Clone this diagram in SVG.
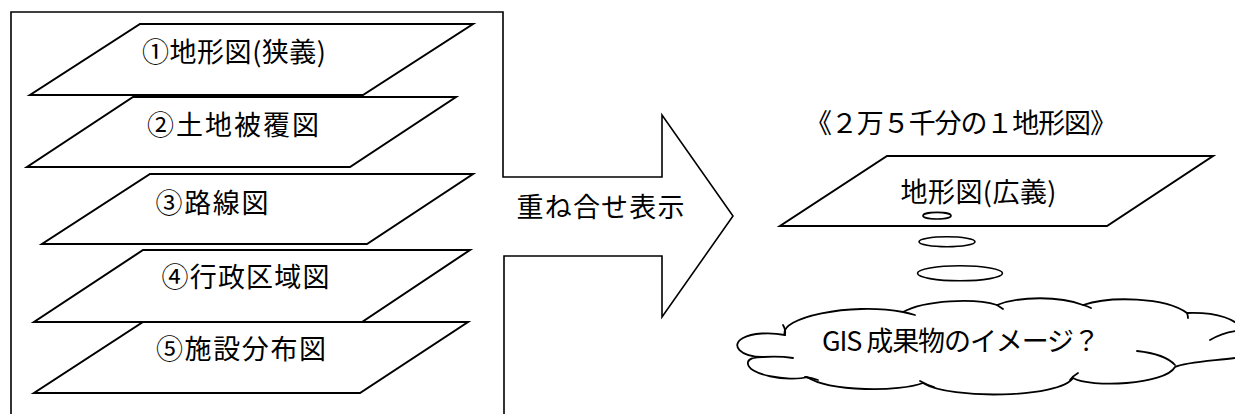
<svg xmlns="http://www.w3.org/2000/svg" width="1235" height="414" viewBox="0 0 1235 414">
<style>
.ln{fill:none;stroke:#000;stroke-width:1.6;stroke-linejoin:miter}
.sh{fill:#fff;stroke:#000;stroke-width:2;stroke-linejoin:miter}
.cl{fill:#fff;stroke:#000;stroke-width:1.8;stroke-linejoin:round}
.in{fill:none;stroke:#000;stroke-width:1.8;stroke-linecap:round}
.t{font-family:"Noto Sans CJK JP","Noto Sans",sans-serif;font-size:27px;fill:#000;text-anchor:middle}
</style>
<rect width="1235" height="414" fill="#fff"/>
<g id="layer1">
  <polygon class="sh" points="140,24 473,24 363,95 30,95"/>
  <text class="t" x="234" y="62" textLength="184" lengthAdjust="spacing">①地形図(狭義)</text>
</g>
<g id="layer2">
  <polygon class="sh" points="133,97 456,97 350,167 27,167"/>
  <text class="t" x="233" y="135" textLength="172" lengthAdjust="spacing">②土地被覆図</text>
</g>
<g id="layer3">
  <polygon class="sh" points="150,174 473,174 367,244 42,244"/>
  <text class="t" x="212" y="213" textLength="113" lengthAdjust="spacing">③路線図</text>
</g>
<g id="layer4">
  <polygon class="sh" points="143,250 470,250 362,322 34,322"/>
  <text class="t" x="245.5" y="287" textLength="168" lengthAdjust="spacing">④行政区域図</text>
</g>
<g id="layer5">
  <polygon class="sh" points="143,322 468,322 360,393 34,393"/>
  <text class="t" x="241" y="359" textLength="170" lengthAdjust="spacing">⑤施設分布図</text>
</g>
<g id="overlay-label">
  <text class="t" x="600.5" y="217" textLength="168" lengthAdjust="spacing">重ね合せ表示</text>
</g>
<g id="title">
  <text class="t" x="961" y="133" textLength="312" lengthAdjust="spacing">《２万５千分の１地形図》</text>
</g>
<g id="map-wide">
  <polygon class="sh" points="887,156 1213,156 1107,226 780,226"/>
  <text class="t" x="978.5" y="202" textLength="156" lengthAdjust="spacing">地形図(広義)</text>
</g>
<g id="cloud">
  <path class="cl" d="M785,335 C778,318 850,302 903,312 C925,300 975,298 997,305 C1020,296 1060,296 1083,305 C1110,296 1165,297 1187,313 C1215,312 1240,318 1245,335 C1250,350 1245,358 1235,358 C1210,361 1185,362 1175,367 C1165,385 1090,388 1073,378 C1060,398 950,400 923,383 C900,392 830,392 807,377 C790,382 745,375 748,362 C749,358 756,357 763,357 C740,357 730,345 743,338 C752,333 770,332 785,335 Z"/>
  <path class="in" d="M763,357 Q780,356 793,358"/>
  <path class="in" d="M805,377 Q812,378 818,380"/>
  <path class="in" d="M920,381 Q927,385 934,387"/>
  <path class="in" d="M1070,380 Q1073,376 1078,373"/>
  <path class="in" d="M1137,351 Q1165,354 1175,365"/>
  <path class="in" d="M1210,340 Q1222,333 1236,331"/>
  <path class="in" d="M903,312 Q908,313 915,315"/>
  <path class="in" d="M997,305 Q1000,307 1003,309"/>
  <path class="in" d="M1083,305 Q1087,306 1091,308"/>
  <path class="in" d="M1187,313 Q1188,316 1188,318"/>
  <path class="in" d="M785,335 Q786,330 783,325"/>
  <text class="t" x="961" y="351" textLength="278" lengthAdjust="spacing">GIS 成果物のイメージ？</text>
</g>
<g id="connectors">
  <path id="overlay-arrow" class="ln" d="M11,414 L11,12 L503,12 L503,177 L662,177 L662,115 L733,216 L662,317 L662,256 L504,256 L504,414"/>
  <g id="bubbles">
    <ellipse class="ln" cx="937" cy="215.7" rx="14" ry="3.3"/>
    <ellipse class="ln" cx="947" cy="241.7" rx="28" ry="5"/>
    <ellipse class="ln" cx="960" cy="273.3" rx="42.5" ry="7.5"/>
  </g>
</g>
</svg>
